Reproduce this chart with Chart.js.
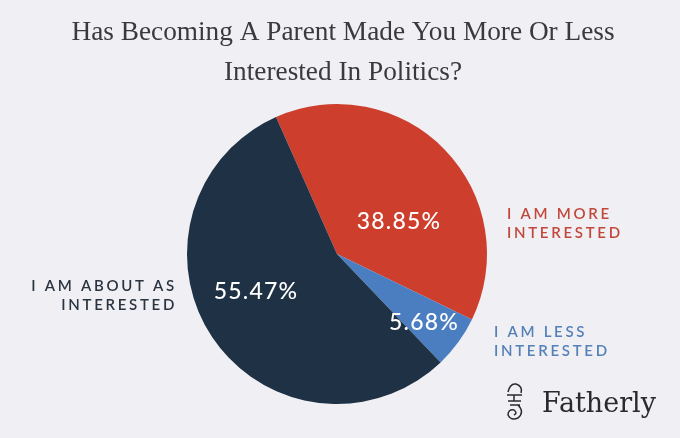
<!DOCTYPE html>
<html>
<head>
<meta charset="utf-8">
<script src="https://cdn.jsdelivr.net/npm/chart.js@4/dist/chart.umd.min.js"></script>
<style>
html,body{margin:0;padding:0;background:#f0f0f4;}
#wrap{width:680px;height:438px;position:relative;}
</style>
</head>
<body>
<div id="wrap"><canvas id="c" width="680" height="438"></canvas></div>
<script>
const titleLines = ["Has Becoming A Parent Made You More Or Less", "Interested In Politics?"];
const categories = ["I AM MORE INTERESTED", "I AM LESS INTERESTED", "I AM ABOUT AS INTERESTED"];
const values = [38.85, 5.68, 55.47];
const sliceColors = ["#cd3f2c", "#4a7ec0", "#1f3144"];
const labelColors = ["#c2473b", "#5481b8", "#2a3340"];
const outsideLabels = [["I AM MORE", "INTERESTED"], ["I AM LESS", "INTERESTED"], ["I AM ABOUT AS", "INTERESTED"]];

const labelPlugin = {
  id: 'labels',
  afterDraw(chart) {
    const ctx = chart.ctx;
    ctx.save();
    // Title (slightly condensed serif)
    ctx.fillStyle = '#3a3a3c';
    ctx.font = '28px "Liberation Serif"';
    ctx.textAlign = 'center';
    ctx.textBaseline = 'alphabetic';
    ctx.save();
    ctx.translate(343, 0);
    ctx.scale(0.975, 1);
    ctx.fillText(titleLines[0], 0, 40);
    ctx.fillText(titleLines[1], 0, 80);
    ctx.restore();

    // in-slice percent labels
    const pctPos = [[399, 222], [424, 323], [256, 292]];
    ctx.fillStyle = '#ffffff';
    ctx.font = '500 23px Lato';
    ctx.letterSpacing = '1.2px';
    ctx.textAlign = 'center';
    ctx.textBaseline = 'middle';
    values.forEach((v, i) => {
      ctx.fillText(v.toFixed(2) + '%', pctPos[i][0], pctPos[i][1]);
    });

    // outside labels
    ctx.font = '600 15px Lato';
    ctx.letterSpacing = '2.7px';
    ctx.textBaseline = 'middle';
    const pos = [[507, 214, 'left'], [494, 332, 'left'], [177, 286, 'right']];
    outsideLabels.forEach((lines, i) => {
      ctx.fillStyle = labelColors[i];
      ctx.textAlign = pos[i][2];
      lines.forEach((t, j) => {
        ctx.fillText(t, pos[i][0], pos[i][1] + j * 19.5);
      });
    });
    ctx.letterSpacing = '0px';

    // Fatherly logo
    ctx.fillStyle = '#2a2a2c';
    ctx.font = '27px "DejaVu Serif"';
    ctx.textAlign = 'left';
    ctx.textBaseline = 'alphabetic';
    ctx.fillText('Fatherly', 542, 412);
    ctx.strokeStyle = '#2a2a2c';
    ctx.lineWidth = 1.5;
    ctx.beginPath();
    ctx.moveTo(508, 392);
    ctx.quadraticCurveTo(510, 383, 516, 384);
    ctx.quadraticCurveTo(523, 386, 521, 393);
    ctx.moveTo(507, 395); ctx.lineTo(522, 395);
    ctx.moveTo(514, 395); ctx.lineTo(514, 401);
    ctx.moveTo(508, 401); ctx.lineTo(521, 401);
    ctx.moveTo(510, 405); ctx.lineTo(520, 405);
    ctx.moveTo(518, 405);
    ctx.quadraticCurveTo(525, 412, 518, 418);
    ctx.quadraticCurveTo(511, 421, 508, 415);
    ctx.quadraticCurveTo(508, 409, 514, 410);
    ctx.quadraticCurveTo(518, 413, 514, 415);
    ctx.stroke();
    ctx.restore();
  }
};

new Chart(document.getElementById('c'), {
  type: 'pie',
  data: {
    labels: categories,
    datasets: [{
      data: values,
      backgroundColor: sliceColors,
      borderWidth: 0,
      hoverOffset: 0
    }]
  },
  options: {
    responsive: false,
    animation: false,
    rotation: -24,
    layout: { padding: { top: 104, bottom: 34, left: 0, right: 6 } },
    plugins: {
      legend: { display: false },
      tooltip: { enabled: false },
      title: { display: false }
    }
  },
  plugins: [labelPlugin]
});
</script>
</body>
</html>
